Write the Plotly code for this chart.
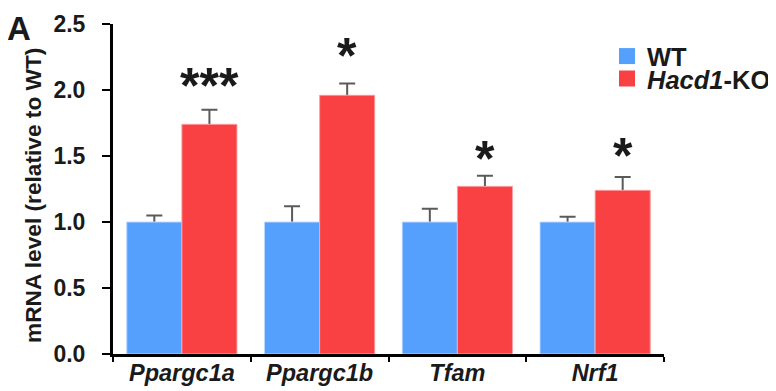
import plotly.graph_objects as go

genes = ["Ppargc1a", "Ppargc1b", "Tfam", "Nrf1"]
wt_vals = [1.00, 1.00, 1.00, 1.00]
wt_err = [0.05, 0.12, 0.10, 0.04]
ko_vals = [1.74, 1.96, 1.27, 1.24]
ko_err = [0.11, 0.09, 0.08, 0.10]
sig_marks = ["***", "*", "*", "*"]
sig_y = [2.08, 2.31, 1.53, 1.55]
y_ticks = [0.0, 0.5, 1.0, 1.5, 2.0, 2.5]

BLUE = "#56a0fd"
RED = "#f94144"
FONT = "Liberation Sans, Arial, sans-serif"
TXT = "#1a1a1a"
ERR = "#5a5a5a"

# the page body has an 8px margin; size the figure so it fills the window
OFF = 8
W, H = 776 - OFF, 391 - OFF
L, R, T, B = 105, 112, 16, 37
PW, PH = W - L - R, H - T - B


def px(xw):  # window x -> paper fraction
    return (xw - OFF - L) / PW


def py(yw):  # window y -> paper fraction
    return 1 - (yw - OFF - T) / PH


x_labels = [f"<b><i>{g}</i></b>" for g in genes]

fig = go.Figure()
series = [("wt", wt_vals, wt_err, BLUE, "rgba(190,220,255,0.9)"),
          ("ko", ko_vals, ko_err, RED, "rgba(255,170,170,0.9)")]
# bars with error bars (lower half hidden by the cover bars below)
for key, vals, errs, col, edge in series:
    fig.add_trace(go.Bar(
        x=x_labels, y=vals, offsetgroup=key, showlegend=False,
        marker=dict(color=col, line=dict(width=0)),
        error_y=dict(type="data", array=errs, color=ERR, thickness=2, width=8),
    ))
for key, vals, errs, col, edge in series:
    fig.add_trace(go.Bar(
        x=x_labels, y=vals, offsetgroup=key, showlegend=False,
        marker=dict(color=col, line=dict(width=1, color=edge)),
    ))

# legend entries
fig.add_trace(go.Scatter(x=[None], y=[None], mode="markers", name="<b>WT</b>",
                         marker=dict(symbol="square", size=16, color=BLUE), legend="legend"))
fig.add_trace(go.Scatter(x=[None], y=[None], mode="markers", name="<b><i>Hacd1</i>-KO</b>",
                         marker=dict(symbol="square", size=16, color=RED), legend="legend2"))

for i, (m, yv) in enumerate(zip(sig_marks, sig_y)):
    fig.add_annotation(x=i + 0.2, y=yv, xref="x", yref="y", text=f"<b>{m}</b>",
                       showarrow=False, yanchor="middle", yshift=-7,
                       font=dict(family=FONT, size=50, color=TXT))

fig.add_annotation(x=px(4.5), y=py(8), xref="paper", yref="paper",
                   xanchor="left", yanchor="top",
                   text="<b>A</b>", showarrow=False, font=dict(family=FONT, size=33, color=TXT))

leg_common = dict(xanchor="left", yanchor="middle", bgcolor="rgba(0,0,0,0)",
                  font=dict(family=FONT, size=25.5, color=TXT), itemwidth=30)
fig.update_layout(
    width=W, height=H,
    margin=dict(l=L, r=R, t=T, b=B, autoexpand=False),
    paper_bgcolor="white", plot_bgcolor="white",
    barmode="group", bargap=0.2, bargroupgap=0,
    font=dict(family=FONT, color=TXT),
    legend=dict(x=px(607), y=py(56.5), **leg_common),
    legend2=dict(x=px(607), y=py(79), **leg_common),
)
fig.update_xaxes(
    type="category", range=[-0.5, 3.5], automargin=False,
    showline=True, linecolor="black", linewidth=3,
    ticks="outside", tickson="boundaries", ticklen=5, tickwidth=2, tickcolor="black",
    ticklabelstandoff=-4,
    tickfont=dict(family=FONT, size=23.5, color=TXT),
    showgrid=False, zeroline=False,
)
fig.update_yaxes(
    range=[0, 2.5], tickvals=y_ticks, ticktext=[f"<b>{v:.1f}</b>" for v in y_ticks],
    automargin=False,
    showline=True, linecolor="black", linewidth=3,
    ticks="outside", ticklen=8, tickwidth=2, tickcolor="black",
    ticklabelstandoff=12,
    tickfont=dict(family=FONT, size=23, color=TXT),
    title=dict(text="<b>mRNA level (relative to WT)\u00a0\u00a0</b>",
               font=dict(family=FONT, size=22.7, color=TXT), standoff=6),
    showgrid=False, zeroline=False,
)

fig.write_html("out.html")
